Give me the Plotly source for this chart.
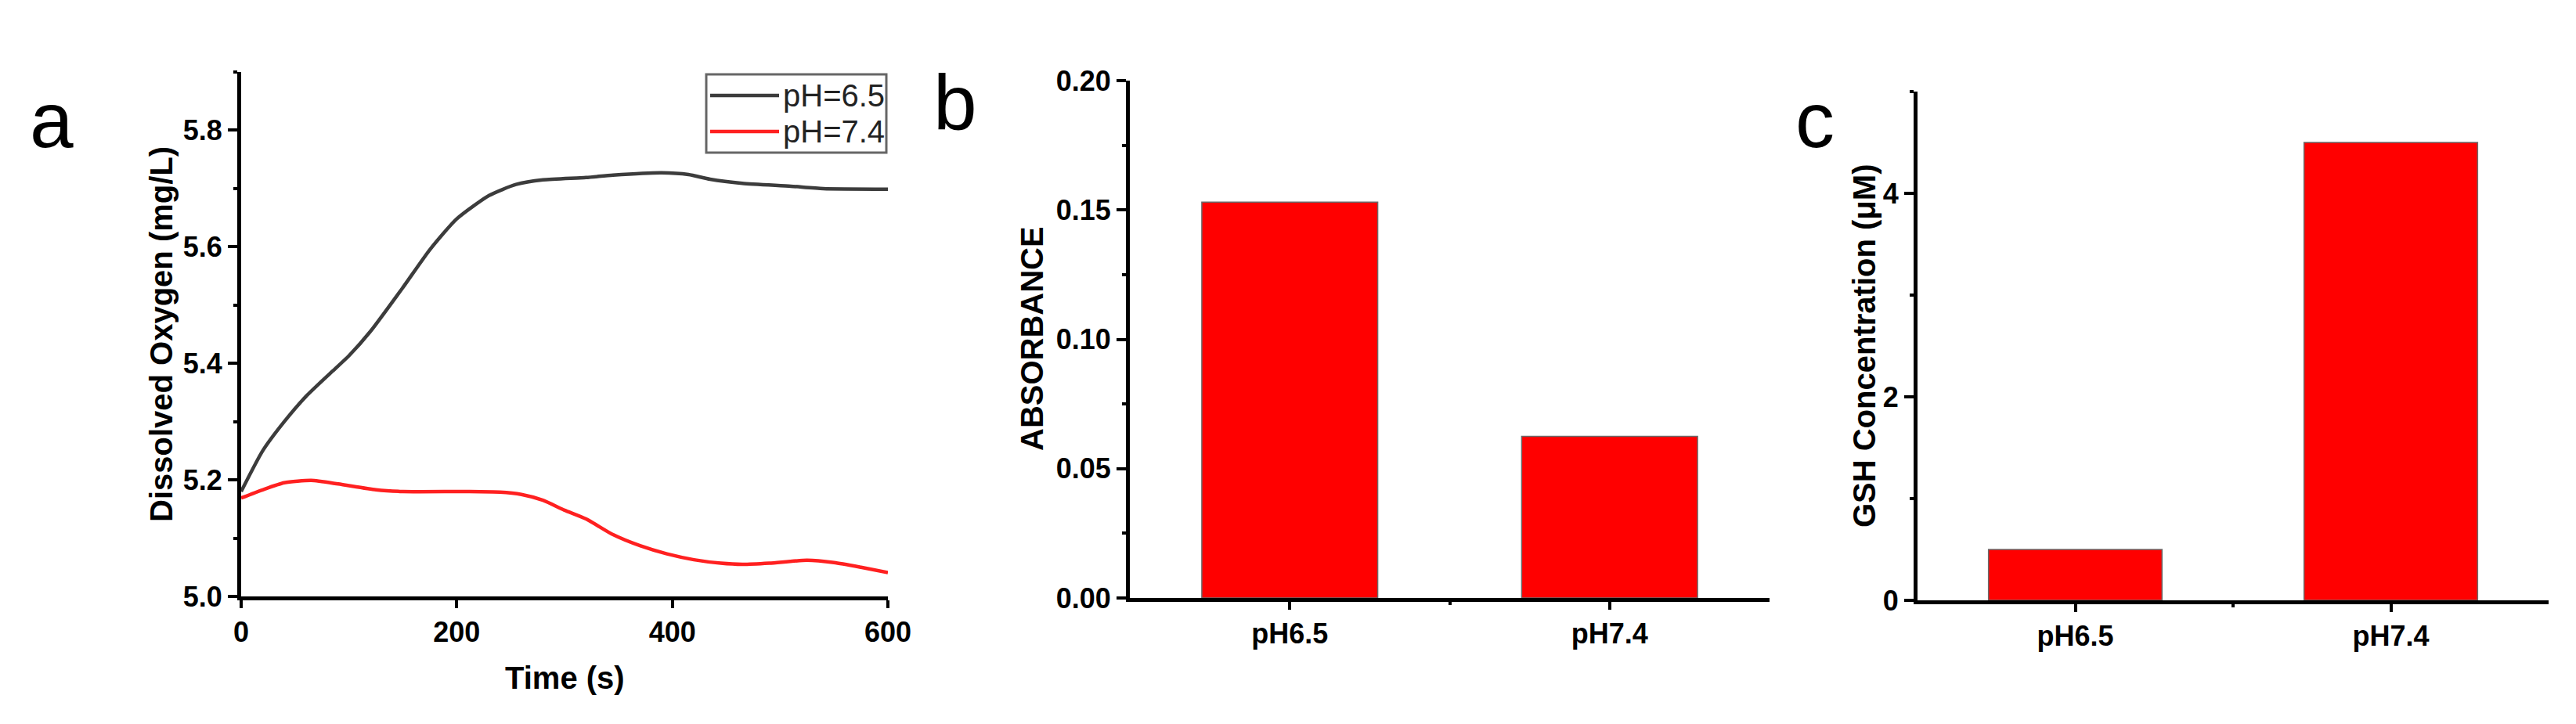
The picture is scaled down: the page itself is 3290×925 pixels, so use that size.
import plotly.graph_objects as go

W, H = 3290, 925
PAGE_MARGIN = 8  # the browser's default body margin shifts the figure by this much

# ---- data ----
time_ph65 = [0, 20, 40, 60, 85, 100, 120, 150, 175, 200, 230, 255, 280, 320, 345,
             390, 415, 435, 465, 510, 540, 600]
oxygen_ph65 = [5.18, 5.25, 5.30, 5.343, 5.387, 5.413, 5.455, 5.53, 5.595, 5.648, 5.688,
               5.707, 5.715, 5.719, 5.723, 5.727, 5.724, 5.716, 5.709, 5.704, 5.700, 5.699]

time_ph74 = [0, 20, 40, 65, 90, 125, 150, 210, 240, 260, 280, 300, 320, 345, 370, 395,
             420, 445, 465, 490, 525, 550, 575, 600]
oxygen_ph74 = [5.169, 5.183, 5.195, 5.199, 5.193, 5.183, 5.180, 5.180, 5.179, 5.175,
               5.165, 5.148, 5.133, 5.106, 5.087, 5.073, 5.063, 5.057, 5.055, 5.057,
               5.062, 5.058, 5.050, 5.041]

categories = ["pH6.5", "pH7.4"]
absorbance = [0.153, 0.0625]
gsh_conc = [0.5, 4.5]

series_names = ["pH=6.5", "pH=7.4"]
line_colors = ["#3c3c3c", "#ff2020"]


def px_x(px):
    return (px - PAGE_MARGIN) / W


def px_y(py):
    return 1 - (py - PAGE_MARGIN) / H


FONT = "Liberation Sans, Arial, sans-serif"
tickfont = dict(family=FONT, size=36, color="black", weight="bold")

axis_base = dict(
    showline=True, linecolor="black", linewidth=5,
    ticks="outside", tickwidth=4, tickcolor="black",
    showgrid=False, zeroline=False, tickfont=tickfont,
    automargin=False, fixedrange=True,
)

fig = go.Figure()

# panel a: dissolved oxygen curves
fig.add_trace(go.Scatter(x=time_ph65, y=oxygen_ph65, mode="lines", name=series_names[0],
                         line=dict(color=line_colors[0], width=4.5, shape="spline", smoothing=0.6),
                         xaxis="x", yaxis="y"))
fig.add_trace(go.Scatter(x=time_ph74, y=oxygen_ph74, mode="lines", name=series_names[1],
                         line=dict(color=line_colors[1], width=4.5, shape="spline", smoothing=0.6),
                         xaxis="x", yaxis="y"))

# panel b / c: bars
pos = list(range(len(categories)))
bar_style = dict(color="#ff0000", line=dict(color="#6a6a6a", width=1.5))
fig.add_trace(go.Bar(x=pos, y=absorbance, width=0.55, marker=bar_style,
                     xaxis="x2", yaxis="y2", showlegend=False))
fig.add_trace(go.Bar(x=pos, y=gsh_conc, width=0.55, marker=bar_style,
                     xaxis="x3", yaxis="y3", showlegend=False))

fig.update_layout(
    width=W, height=H,
    margin=dict(l=0, r=0, t=0, b=0, pad=0),
    paper_bgcolor="white", plot_bgcolor="white",
    showlegend=False,
    xaxis=dict(axis_base, domain=[px_x(308), px_x(1134)], anchor="y",
               range=[0, 600], tickvals=[0, 200, 400, 600], ticklen=10),
    yaxis=dict(axis_base, domain=[px_y(762), px_y(92)], anchor="x",
               range=[5.0, 5.9], tickvals=[5.0, 5.2, 5.4, 5.6, 5.8], tickformat=".1f",
               ticklen=12,
               minor=dict(tickvals=[5.1, 5.3, 5.5, 5.7, 5.9], ticklen=5, tickwidth=4,
                          tickcolor="black", ticks="outside")),
    xaxis2=dict(axis_base, domain=[px_x(1443), px_x(2260)], anchor="y2",
                range=[-0.5, 1.5], tickvals=pos, ticktext=categories, ticklen=10,
                minor=dict(tickvals=[0.5], ticklen=4, tickwidth=4, tickcolor="black",
                           ticks="outside")),
    yaxis2=dict(axis_base, domain=[px_y(764), px_y(103)], anchor="x2",
                range=[0, 0.2], tickvals=[0, 0.05, 0.10, 0.15, 0.20], tickformat=".2f",
                ticklen=12,
                minor=dict(tickvals=[0.025, 0.075, 0.125, 0.175], ticklen=5, tickwidth=4,
                           tickcolor="black", ticks="outside")),
    xaxis3=dict(axis_base, domain=[px_x(2449), px_x(3255)], anchor="y3",
                range=[-0.5, 1.5], tickvals=pos, ticktext=categories, ticklen=10,
                minor=dict(tickvals=[0.5], ticklen=4, tickwidth=4, tickcolor="black",
                           ticks="outside")),
    yaxis3=dict(axis_base, domain=[px_y(767), px_y(117)], anchor="x3",
                range=[0, 5], tickvals=[0, 2, 4], ticklen=12,
                minor=dict(tickvals=[1, 3, 5], ticklen=5, tickwidth=4,
                           tickcolor="black", ticks="outside")),
)

title_font = dict(family=FONT, size=40, color="black", weight="bold")
letter_font = dict(family=FONT, size=100, color="black")

annotations = [
    dict(text="Dissolved Oxygen (mg/L)", x=px_x(206), y=px_y(427), textangle=-90,
         font=title_font),
    dict(text="Time (s)", x=px_x(721), y=px_y(866), font=title_font),
    dict(text="ABSORBANCE", x=px_x(1318), y=px_y(433), textangle=-90, font=title_font),
    dict(text="GSH Concentration (μM)", x=px_x(2381), y=px_y(442), textangle=-90,
         font=title_font),
    dict(text="a", x=px_x(66), y=px_y(153), font=letter_font),
    dict(text="b", x=px_x(1220), y=px_y(131), font=letter_font),
    dict(text="c", x=px_x(2318), y=px_y(153), font=letter_font),
]

# legend for panel a, drawn by hand to match the box in the original
legend_rows = [122, 168]
shapes = [dict(type="rect", xref="paper", yref="paper",
               x0=px_x(902), x1=px_x(1132), y0=px_y(195), y1=px_y(95),
               line=dict(color="#666666", width=3), fillcolor="white", layer="above")]
for name, color, row in zip(series_names, line_colors, legend_rows):
    shapes.append(dict(type="line", xref="paper", yref="paper",
                       x0=px_x(907), x1=px_x(995), y0=px_y(row), y1=px_y(row),
                       line=dict(color=color, width=4.5), layer="above"))
    annotations.append(dict(text=name, x=px_x(998), y=px_y(row), xanchor="left",
                            font=dict(family=FONT, size=40, color="#222222")))

for a in annotations:
    a.setdefault("xref", "paper")
    a.setdefault("yref", "paper")
    a.setdefault("showarrow", False)
    a.setdefault("xanchor", "center")
    a.setdefault("yanchor", "middle")

fig.update_layout(annotations=annotations, shapes=shapes)

fig.write_html("out.html")
